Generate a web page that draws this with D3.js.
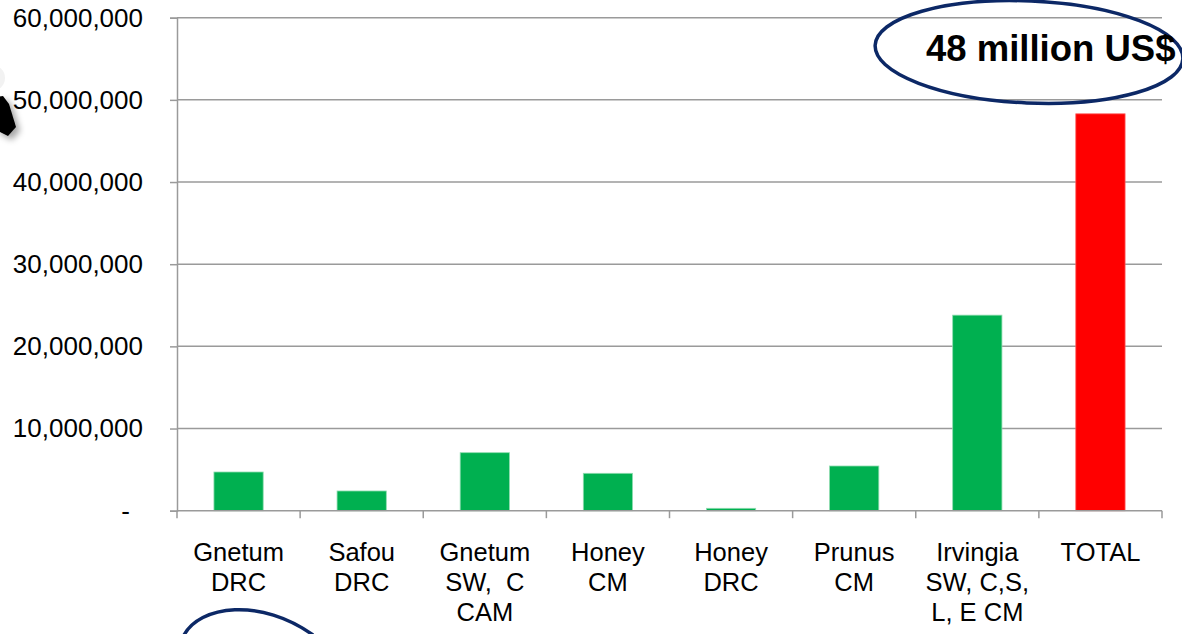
<!DOCTYPE html>
<html>
<head>
<meta charset="utf-8">
<script src="https://cdn.jsdelivr.net/npm/d3@7"></script>
<style>
  html, body { margin: 0; padding: 0; background: #fff; }
  svg { display: block; font-family: "Liberation Sans", Arial, sans-serif; }
</style>
</head>
<body>
<svg id="chart" width="1182" height="634"></svg>
<script>
// Market value by product and region (US$)
const categories = [
  ["Gnetum", "DRC"],
  ["Safou", "DRC"],
  ["Gnetum", "SW,  C", "CAM"],
  ["Honey", "CM"],
  ["Honey", "DRC"],
  ["Prunus", "CM"],
  ["Irvingia", "SW, C,S,", "L, E CM"],
  ["TOTAL"]
];
const values = [4710000, 2400000, 7060000, 4550000, 290000, 5440000, 23800000, 48300000];
const barColors = ["#00b050", "#00b050", "#00b050", "#00b050", "#00b050", "#00b050", "#00b050", "#ff0000"];
const yTicks = [0, 10000000, 20000000, 30000000, 40000000, 50000000, 60000000];
const yTickLabels = ["-", "10,000,000", "20,000,000", "30,000,000", "40,000,000", "50,000,000", "60,000,000"];
const calloutText = "48 million US$";

const svg = d3.select("#chart");
const plotLeft = 177, plotRight = 1162, plotTop = 17.7, plotBottom = 510.7;
const gridColor = "#9a9a9a";

const x = d3.scaleBand()
  .domain(d3.range(categories.length))
  .range([plotLeft, plotRight])
  .paddingInner(0.6)
  .paddingOuter(0.3);

const y = d3.scaleLinear().domain([0, 60000000]).range([plotBottom, plotTop]);

// horizontal gridlines
svg.append("g")
  .selectAll("line")
  .data(yTicks.slice(1))
  .join("line")
  .attr("x1", plotLeft).attr("x2", plotRight)
  .attr("y1", d => y(d)).attr("y2", d => y(d))
  .attr("stroke", gridColor).attr("stroke-width", 1.5);

// y axis
const yAxis = svg.append("g")
  .attr("transform", `translate(${plotLeft},0)`)
  .call(d3.axisLeft(y).tickValues(yTicks).tickSize(7).tickPadding(27)
    .tickFormat((d, i) => yTickLabels[i]));
yAxis.select(".domain").attr("stroke", gridColor).attr("stroke-width", 1.5);
yAxis.selectAll(".tick line").attr("stroke", gridColor).attr("stroke-width", 1.5);
yAxis.selectAll(".tick text")
  .attr("font-size", 26)
  .attr("fill", "#000")
  .attr("font-family", "Liberation Sans, Arial, sans-serif")
  .attr("dx", (d, i) => i === 0 ? -13 : 0);

// bars
svg.append("g")
  .selectAll("rect")
  .data(values)
  .join("rect")
  .attr("x", (d, i) => x(i))
  .attr("width", x.bandwidth())
  .attr("y", d => y(d))
  .attr("height", d => y(0) - y(d))
  .attr("fill", (d, i) => barColors[i])
  .attr("stroke", (d, i) => i === values.length - 1 ? "#ff5a5a" : "#8fdcb0")
  .attr("stroke-width", 0.8);

// x axis baseline and category boundary ticks
svg.append("line")
  .attr("x1", plotLeft).attr("x2", plotRight)
  .attr("y1", plotBottom).attr("y2", plotBottom)
  .attr("stroke", gridColor).attr("stroke-width", 1.5);
const step = x.step();
const boundaries = d3.range(categories.length + 1).map(i => plotLeft + i * step);
svg.append("g")
  .selectAll("line")
  .data(boundaries)
  .join("line")
  .attr("x1", d => d).attr("x2", d => d)
  .attr("y1", plotBottom).attr("y2", plotBottom + 7.5)
  .attr("stroke", gridColor).attr("stroke-width", 1.5);

// category labels
const labels = svg.append("g")
  .selectAll("text")
  .data(categories)
  .join("text")
  .attr("text-anchor", "middle")
  .attr("font-size", 25.5)
  .attr("fill", "#000")
  .attr("transform", (d, i) => `translate(${x(i) + x.bandwidth() / 2},560.7)`);
labels.selectAll("tspan")
  .data(d => d)
  .join("tspan")
  .attr("x", 0)
  .attr("y", (d, j) => j * 30.3)
  .style("white-space", "pre")
  .text(d => d);

// callout ellipse with total
const callout = svg.append("g").attr("transform", "translate(1029,52) rotate(2.5)");
callout.append("ellipse")
  .attr("rx", 154).attr("ry", 51)
  .attr("fill", "none")
  .attr("stroke", "#0c2866")
  .attr("stroke-width", 3.5);
svg.append("text")
  .attr("x", 926).attr("y", 60.5)
  .attr("font-size", 36.5)
  .attr("font-weight", "bold")
  .attr("fill", "#000")
  .text(calloutText);

// partial ring below the first category
svg.append("path")
  .attr("d", "M183,637 C199,604 262,598 313,635")
  .attr("fill", "none")
  .attr("stroke", "#0c2866")
  .attr("stroke-width", 3.5);

// pointer arrow at the left edge, with its shadow
const defs = svg.append("defs");
const f = defs.append("filter").attr("id", "shadow").attr("x", "-50%").attr("y", "-50%").attr("width", "200%").attr("height", "200%");
f.append("feDropShadow").attr("dx", 4).attr("dy", 4).attr("stdDeviation", 3)
  .attr("flood-color", "#000").attr("flood-opacity", 0.35);
svg.append("circle")
  .attr("cx", -8).attr("cy", 78).attr("r", 13)
  .attr("fill", "#f2f2f2");
svg.append("path")
  .attr("d", "M-4,97 L3,96 L9,104 L16,127 L8,136 L-4,130 Z")
  .attr("fill", "#000")
  .attr("filter", "url(#shadow)");
</script>
</body>
</html>
